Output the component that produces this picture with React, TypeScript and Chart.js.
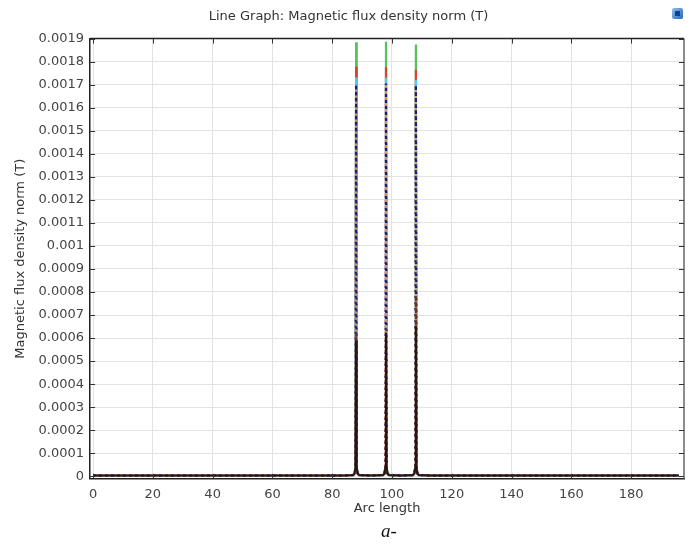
import React, { useEffect, useRef } from "react";
import { Chart, registerables } from "chart.js";

Chart.register(...registerables);

const chartTitle = "Line Graph: Magnetic flux density norm (T)";
const xAxisTitle = "Arc length";
const yAxisTitle = "Magnetic flux density norm (T)";
const caption = "a-";

const xTicks = [0, 20, 40, 60, 80, 100, 120, 140, 160, 180];
const yTicks = [0, 0.0001, 0.0002, 0.0003, 0.0004, 0.0005, 0.0006, 0.0007, 0.0008, 0.0009, 0.001, 0.0011, 0.0012, 0.0013, 0.0014, 0.0015, 0.0016, 0.0017, 0.0018, 0.0019];
const yTickLabels = ["0", "0.0001", "0.0002", "0.0003", "0.0004", "0.0005", "0.0006", "0.0007", "0.0008", "0.0009", "0.001", "0.0011", "0.0012", "0.0013", "0.0014", "0.0015", "0.0016", "0.0017", "0.0018", "0.0019"];

const arcLength = [0, 10, 20, 30, 40, 50, 60, 70, 78, 84, 87, 87.5, 87.8, 88, 88.2, 88.5, 89, 93, 97, 97.5, 97.8, 98, 98.2, 98.5, 99, 103, 107, 107.5, 107.8, 108, 108.2, 108.5, 109, 113, 120, 130, 140, 150, 160, 170, 180, 190, 196];

const seriesGreen = [3e-6, 3e-6, 3e-6, 3e-6, 3e-6, 3e-6, 3e-6, 3e-6, 3e-6, 3e-6, 5e-6, 1.2e-5, 4e-5, 0.001884, 4e-5, 1.2e-5, 5e-6, 3e-6, 5e-6, 1.2e-5, 4e-5, 0.001886, 4e-5, 1.2e-5, 5e-6, 3e-6, 5e-6, 1.2e-5, 4e-5, 0.001874, 4e-5, 1.2e-5, 5e-6, 3e-6, 3e-6, 3e-6, 3e-6, 3e-6, 3e-6, 3e-6, 3e-6, 3e-6, 3e-6];
const seriesRed = [3e-6, 3e-6, 3e-6, 3e-6, 3e-6, 3e-6, 3e-6, 3e-6, 3e-6, 3e-6, 5e-6, 1.2e-5, 4e-5, 0.001778, 4e-5, 1.2e-5, 5e-6, 3e-6, 5e-6, 1.2e-5, 4e-5, 0.001776, 4e-5, 1.2e-5, 5e-6, 3e-6, 5e-6, 1.2e-5, 4e-5, 0.001765, 4e-5, 1.2e-5, 5e-6, 3e-6, 3e-6, 3e-6, 3e-6, 3e-6, 3e-6, 3e-6, 3e-6, 3e-6, 3e-6];
const seriesCyan = [3e-6, 3e-6, 3e-6, 3e-6, 3e-6, 3e-6, 3e-6, 3e-6, 3e-6, 3e-6, 5e-6, 1.2e-5, 4e-5, 0.001731, 4e-5, 1.2e-5, 5e-6, 3e-6, 5e-6, 1.2e-5, 4e-5, 0.00173, 4e-5, 1.2e-5, 5e-6, 3e-6, 5e-6, 1.2e-5, 4e-5, 0.001721, 4e-5, 1.2e-5, 5e-6, 3e-6, 3e-6, 3e-6, 3e-6, 3e-6, 3e-6, 3e-6, 3e-6, 3e-6, 3e-6];
const seriesMagenta = [3e-6, 3e-6, 3e-6, 3e-6, 3e-6, 3e-6, 3e-6, 3e-6, 3e-6, 3e-6, 5e-6, 1.2e-5, 4e-5, 0.0017, 4e-5, 1.2e-5, 5e-6, 3e-6, 5e-6, 1.2e-5, 4e-5, 0.001708, 4e-5, 1.2e-5, 5e-6, 3e-6, 5e-6, 1.2e-5, 4e-5, 0.0017, 4e-5, 1.2e-5, 5e-6, 3e-6, 3e-6, 3e-6, 3e-6, 3e-6, 3e-6, 3e-6, 3e-6, 3e-6, 3e-6];
const seriesOrange = [3e-6, 3e-6, 3e-6, 3e-6, 3e-6, 3e-6, 3e-6, 3e-6, 3e-6, 3e-6, 5e-6, 1.2e-5, 4e-5, 0.00169, 4e-5, 1.2e-5, 5e-6, 3e-6, 5e-6, 1.2e-5, 4e-5, 0.0017, 4e-5, 1.2e-5, 5e-6, 3e-6, 5e-6, 1.2e-5, 4e-5, 0.00169, 4e-5, 1.2e-5, 5e-6, 3e-6, 3e-6, 3e-6, 3e-6, 3e-6, 3e-6, 3e-6, 3e-6, 3e-6, 3e-6];
const seriesNavy = [3e-6, 3e-6, 3e-6, 3e-6, 3e-6, 3e-6, 3e-6, 3e-6, 3e-6, 3e-6, 5e-6, 1.2e-5, 4e-5, 0.0017, 4e-5, 1.2e-5, 5e-6, 3e-6, 5e-6, 1.2e-5, 4e-5, 0.001705, 4e-5, 1.2e-5, 5e-6, 3e-6, 5e-6, 1.2e-5, 4e-5, 0.001698, 4e-5, 1.2e-5, 5e-6, 3e-6, 3e-6, 3e-6, 3e-6, 3e-6, 3e-6, 3e-6, 3e-6, 3e-6, 3e-6];
const seriesBrown = [3e-6, 3e-6, 3e-6, 3e-6, 3e-6, 3e-6, 3e-6, 3e-6, 3e-6, 3e-6, 6e-6, 1.3e-5, 4.2e-5, 0.00062, 4.2e-5, 1.3e-5, 6e-6, 3e-6, 6e-6, 1.3e-5, 4.2e-5, 0.00064, 4.2e-5, 1.3e-5, 6e-6, 3e-6, 6e-6, 1.3e-5, 4.2e-5, 0.000784, 4.2e-5, 1.3e-5, 6e-6, 3e-6, 3e-6, 3e-6, 3e-6, 3e-6, 3e-6, 3e-6, 3e-6, 3e-6, 3e-6];
const seriesBlack = [3e-6, 3e-6, 3e-6, 3e-6, 3e-6, 3e-6, 3e-6, 3e-6, 3e-6, 3e-6, 5e-6, 1.2e-5, 3.8e-5, 0.000588, 3.8e-5, 1.2e-5, 5e-6, 3e-6, 5e-6, 1.2e-5, 3.8e-5, 0.000623, 3.8e-5, 1.2e-5, 5e-6, 3e-6, 5e-6, 1.2e-5, 3.8e-5, 0.000653, 3.8e-5, 1.2e-5, 5e-6, 3e-6, 3e-6, 3e-6, 3e-6, 3e-6, 3e-6, 3e-6, 3e-6, 3e-6, 3e-6];

const FONT = "'DejaVu Sans', sans-serif";

const framePlugin = {
  id: "frameTicks",
  afterDraw(chart: any) {
    const { ctx, chartArea } = chart;
    const { left, right, top, bottom } = chartArea;
    const xs = chart.scales.x;
    const ys = chart.scales.y;
    ctx.save();
    ctx.strokeStyle = "#222";
    ctx.lineWidth = 1.5;
    ctx.beginPath();
    ctx.moveTo(left, top);
    ctx.lineTo(right, top);
    ctx.stroke();
    ctx.strokeStyle = "#666";
    ctx.lineWidth = 1.5;
    ctx.beginPath();
    ctx.moveTo(right, top);
    ctx.lineTo(right, bottom);
    ctx.stroke();
    ctx.strokeStyle = "#333";
    ctx.lineWidth = 1;
    ctx.beginPath();
    for (const v of yTicks) {
      const py = Math.round(ys.getPixelForValue(v)) + 0.5;
      ctx.moveTo(left, py);
      ctx.lineTo(left + 5, py);
      ctx.moveTo(right, py);
      ctx.lineTo(right - 5, py);
    }
    for (const v of xTicks) {
      const px = Math.round(xs.getPixelForValue(v)) + 0.5;
      ctx.moveTo(px, bottom);
      ctx.lineTo(px, bottom - 5);
      ctx.moveTo(px, top);
      ctx.lineTo(px, top + 5);
    }
    ctx.stroke();
    // small window icon at top right
    const g = ctx.createLinearGradient(672, 8, 684, 19);
    g.addColorStop(0, "#8fc4f0");
    g.addColorStop(1, "#1f5fb8");
    ctx.fillStyle = g;
    ctx.beginPath();
    ctx.roundRect(672, 8, 11, 11, 2);
    ctx.fill();
    ctx.fillStyle = "#163f8a";
    ctx.fillRect(675, 11, 5, 5);
    ctx.restore();
  },
};

export default function App() {
  const canvasRef = useRef<HTMLCanvasElement | null>(null);

  useEffect(() => {
    if (!canvasRef.current) return;
    const mk = (values: number[], color: string, dash: number[] = [], offset = 0, width = 1.5) => ({
      data: arcLength.map((x, i) => ({ x, y: values[i] })),
      borderColor: color,
      backgroundColor: color,
      borderWidth: width,
      borderDash: dash,
      borderDashOffset: offset,
      pointRadius: 0,
      tension: 0,
      fill: false,
    });
    const chart = new Chart(canvasRef.current, {
      type: "line",
      data: {
        datasets: [
          mk(seriesBlack, "#2a1410", [], 0, 2),
          mk(seriesBrown, "#6b3425", [3, 3], 0, 2),
          mk(seriesNavy, "#1c1c78", [2, 4], 0, 2.2),
          mk(seriesOrange, "#e2a048", [2, 4], 2, 2.2),
          mk(seriesMagenta, "#b46ad8", [2, 4], 4, 2.2),
          mk(seriesCyan, "#3fd2f2", [], 0, 2.2),
          mk(seriesRed, "#e2402a", [], 0, 2.2),
          mk(seriesGreen, "#52c45a", [], 0, 2.2),
        ],
      },
      options: {
        responsive: false,
        animation: false,
        parsing: false,
        normalized: true,
        layout: { padding: { left: 13, right: 11, top: 0, bottom: 30 } },
        plugins: {
          legend: { display: false },
          tooltip: { enabled: false },
          title: {
            display: true,
            text: chartTitle,
            color: "#333",
            font: { family: FONT, size: 13, weight: "normal" },
            padding: { top: 9, bottom: 14 },
          },
        },
        scales: {
          x: {
            type: "linear",
            min: -1,
            max: 197.7,
            afterBuildTicks: (s: any) => {
              s.ticks = xTicks.map((v) => ({ value: v }));
            },
            grid: { color: "#e3e3e3", drawTicks: false, lineWidth: 1 },
            border: { color: "#222", width: 1.5 },
            ticks: {
              autoSkip: false,
              maxRotation: 0,
              color: "#444",
              padding: 8,
              font: { family: FONT, size: 13 },
              callback: (v: any) => String(v),
            },
            title: {
              display: true,
              text: xAxisTitle,
              color: "#333",
              font: { family: FONT, size: 13 },
              padding: { top: -10, bottom: 0 },
            },
          },
          y: {
            type: "linear",
            min: -0.000011,
            max: 0.0019,
            afterBuildTicks: (s: any) => {
              s.ticks = yTicks.map((v) => ({ value: v }));
            },
            grid: { color: "#e3e3e3", drawTicks: false, lineWidth: 1 },
            border: { color: "#222", width: 1.5 },
            ticks: {
              autoSkip: false,
              color: "#444",
              padding: 6,
              font: { family: FONT, size: 13 },
              callback: (_v: any, i: number) => yTickLabels[i],
            },
            title: {
              display: true,
              text: yAxisTitle,
              color: "#333",
              font: { family: FONT, size: 13 },
              padding: { top: 0, bottom: 4 },
            },
          },
        },
      },
      plugins: [framePlugin],
    } as any);
    return () => chart.destroy();
  }, []);

  return (
    <div style={{ position: "absolute", left: 0, top: 0, width: 695, height: 546, background: "#fff" }}>
      <canvas ref={canvasRef} width={695} height={546} style={{ display: "block" }} />
      <div
        style={{
          position: "absolute",
          left: 381,
          top: 520,
          fontFamily: "'Liberation Serif', serif",
          fontStyle: "italic",
          fontSize: 19,
          color: "#111",
        }}
      >
        {caption}
      </div>
    </div>
  );
}
